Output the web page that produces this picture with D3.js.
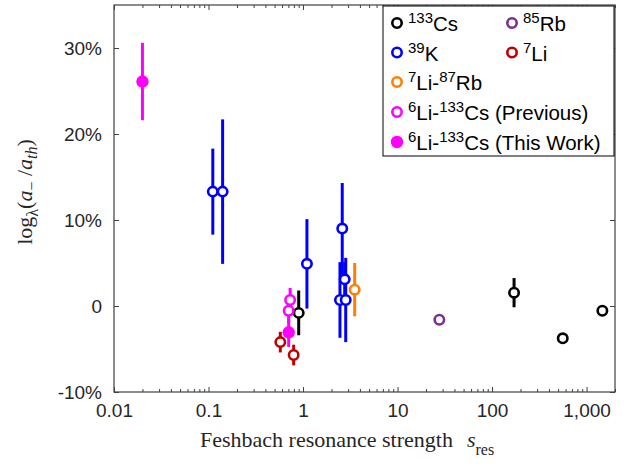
<!DOCTYPE html>
<html><head><meta charset="utf-8">
<script src="https://cdn.jsdelivr.net/npm/d3@7"></script>
<style>body{margin:0;background:#fff}svg{display:block}</style>
</head><body>
<svg id="c" width="634" height="472"></svg>
<script>
// ---- data ----
const seriesNames = ["^{133}Cs","^{85}Rb","^{39}K","^{7}Li","^{7}Li-^{87}Rb","^{6}Li-^{133}Cs (Previous)","^{6}Li-^{133}Cs (This Work)"];
const seriesColors = ["#000000","#7E2F8E","#0000FF","#C00000","#FF8000","#FF00FF","#FF00FF"];
const seriesFilled = [false,false,false,false,false,false,true];
const csX = [0.90, 171, 560, 1470], csY = [-0.8, 1.55, -3.76, -0.55], csE = [2.6, 1.7, 0.3, 0.3];
const rbX = [27.7], rbY = [-1.6], rbE = [0];
const kX = [0.111, 0.141, 1.10, 2.6, 2.46, 2.83, 2.76], kY = [13.3, 13.3, 4.9, 9.0, 0.7, 0.7, 3.1], kE = [5.0, 8.4, 5.2, 5.3, 4.4, 4.9, 2.0];
const liX = [0.575, 0.796], liY = [-4.2, -5.7], liE = [1.2, 1.2];
const lirbX = [3.52], lirbY = [1.9], lirbE = [3.1];
const prevX = [0.73, 0.705], prevY = [0.7, -0.55], prevE = [1.4, 1.4];
const thisX = [0.02, 0.705], thisY = [26.1, -3.06], thisE = [4.5, 1.7];
const xTicks = [0.01, 0.1, 1, 10, 100, 1000];
const xTickLabels = ["0.01","0.1","1","10","100","1,000"];
const yTicks = [-10, 0, 10, 20, 30];
const yTickLabels = ["-10%","0","10%","20%","30%"];

const seriesData = [[csX,csY,csE],[rbX,rbY,rbE],[kX,kY,kE],[liX,liY,liE],[lirbX,lirbY,lirbE],[prevX,prevY,prevE],[thisX,thisY,thisE]];

// ---- layout ----
const L = 114, R = 615, T = 5, B = 392;
const svg = d3.select("#c");
const x = d3.scaleLog().domain([0.01, 2000]).range([L, R]);
const y = d3.scaleLinear().domain([-10, 35]).range([B, T]);
const axisCol = "#404040", txtCol = "#262626";
const sans = "Liberation Sans, Arial, sans-serif", serif = "Liberation Serif, Times New Roman, serif";

const minor = [];
for (let e = -2; e <= 3; e++) for (let m = 2; m <= 9; m++) { const v = m * Math.pow(10, e); if (v <= 2000) minor.push(v); }

const g = svg.append("g");
const ax = g.append("g").attr("transform", `translate(0,${B})`)
  .call(d3.axisBottom(x).tickValues(xTicks).tickFormat((d,i)=>xTickLabels[i]).tickSizeInner(-5).tickSizeOuter(0).tickPadding(12));
ax.select(".domain").remove();
ax.selectAll(".tick line").attr("stroke", axisCol);
ax.selectAll(".tick text").attr("font-family", sans).attr("font-size", 19).attr("fill", txtCol);
const axm = g.append("g").attr("transform", `translate(0,${B})`)
  .call(d3.axisBottom(x).tickValues(minor).tickFormat("").tickSizeInner(-3).tickSizeOuter(0));
axm.select(".domain").remove(); axm.selectAll("line").attr("stroke", axisCol); axm.selectAll("text").remove();
const at = g.append("g").attr("transform", `translate(0,${T})`)
  .call(d3.axisTop(x).tickValues(xTicks).tickFormat("").tickSizeInner(-5).tickSizeOuter(0));
at.select(".domain").remove(); at.selectAll("line").attr("stroke", axisCol); at.selectAll("text").remove();
const atm = g.append("g").attr("transform", `translate(0,${T})`)
  .call(d3.axisTop(x).tickValues(minor).tickFormat("").tickSizeInner(-3).tickSizeOuter(0));
atm.select(".domain").remove(); atm.selectAll("line").attr("stroke", axisCol); atm.selectAll("text").remove();
const ay = g.append("g").attr("transform", `translate(${L},0)`)
  .call(d3.axisLeft(y).tickValues(yTicks).tickFormat((d,i)=>yTickLabels[i]).tickSizeInner(-5).tickSizeOuter(0).tickPadding(12));
ay.select(".domain").remove();
ay.selectAll(".tick line").attr("stroke", axisCol);
ay.selectAll(".tick text").attr("font-family", sans).attr("font-size", 19).attr("fill", txtCol);
const ayr = g.append("g").attr("transform", `translate(${R},0)`)
  .call(d3.axisRight(y).tickValues(yTicks).tickFormat("").tickSizeInner(-5).tickSizeOuter(0));
ayr.select(".domain").remove(); ayr.selectAll("line").attr("stroke", axisCol); ayr.selectAll("text").remove();
g.append("rect").attr("x", L).attr("y", T).attr("width", R - L).attr("height", B - T)
  .attr("fill", "none").attr("stroke", axisCol).attr("stroke-width", 1.2);

// ---- data marks ----
const marks = svg.append("g");
seriesData.forEach((s, si) => {
  const [xs, ys, es] = s;
  const col = seriesColors[si];
  xs.forEach((xv, i) => {
    if (es[i] > 0) {
      marks.append("line").attr("x1", x(xv)).attr("x2", x(xv))
        .attr("y1", y(ys[i] - es[i])).attr("y2", y(ys[i] + es[i]))
        .attr("stroke", col).attr("stroke-width", 3);
    }
  });
  xs.forEach((xv, i) => {
    if (seriesFilled[si]) {
      marks.append("circle").attr("cx", x(xv)).attr("cy", y(ys[i])).attr("r", 6.2).attr("fill", col);
    } else {
      marks.append("circle").attr("cx", x(xv)).attr("cy", y(ys[i])).attr("r", 4.7)
        .attr("fill", "#fff").attr("stroke", col).attr("stroke-width", 2.6);
    }
  });
});

// ---- rich text helper (superscripts) ----
function rich(textSel, str, base, supSize) {
  const parts = str.split(/(\^\{[^}]*\})/).filter(p => p.length);
  let raised = false;
  parts.forEach(p => {
    if (p.startsWith("^{")) {
      textSel.append("tspan").attr("font-size", supSize).attr("dy", raised ? 0 : -8).text(p.slice(2, -1));
      raised = true;
    } else {
      textSel.append("tspan").attr("font-size", base).attr("dy", raised ? 8 : 0).text(p);
      raised = false;
    }
  });
}

// ---- legend ----
const lg = svg.append("g");
lg.append("rect").attr("x", 383).attr("y", 6).attr("width", 231).attr("height", 150)
  .attr("fill", "#fff").attr("stroke", "#000").attr("stroke-width", 1);
const legPos = [[397,23],[512,23],[397,52.5],[512,52.5],[397,82],[397,112],[397,142]];
seriesNames.forEach((nm, i) => {
  const [px, py] = legPos[i];
  if (seriesFilled[i]) lg.append("circle").attr("cx", px).attr("cy", py).attr("r", 6.2).attr("fill", seriesColors[i]);
  else lg.append("circle").attr("cx", px).attr("cy", py).attr("r", 4.7).attr("fill", "#fff").attr("stroke", seriesColors[i]).attr("stroke-width", 2.6);
  const t = lg.append("text").attr("x", px + 11).attr("y", py + 8).attr("font-family", sans).attr("font-size", 20).attr("fill", "#000");
  rich(t, nm, 20.5, 15);
});

// ---- axis labels ----
const xl = svg.append("text").attr("x", 200).attr("y", 447)
  .attr("font-family", serif).attr("font-size", 22).attr("fill", txtCol);
xl.append("tspan").text("Feshbach resonance strength");
xl.append("tspan").attr("font-style", "italic").attr("dx", 14).text("s");
xl.append("tspan").attr("font-size", 16).attr("dy", 8).text("res");

const yl = svg.append("text").attr("transform", "translate(32,192) rotate(-90)").attr("text-anchor", "middle")
  .attr("font-family", serif).attr("font-size", 22).attr("fill", txtCol);
yl.append("tspan").text("log");
yl.append("tspan").attr("font-size", 16).attr("dy", 6).text("λ");
yl.append("tspan").attr("dy", -6).text("(");
yl.append("tspan").attr("font-style", "italic").text("a");
yl.append("tspan").attr("font-size", 16).attr("dy", 5).text("−");
yl.append("tspan").attr("dy", -5).text(" /");
yl.append("tspan").attr("font-style", "italic").text("a");
yl.append("tspan").attr("font-size", 16).attr("font-style", "italic").attr("dy", 5).text("th");
yl.append("tspan").attr("dy", -5).text(")");
</script>
</body></html>
